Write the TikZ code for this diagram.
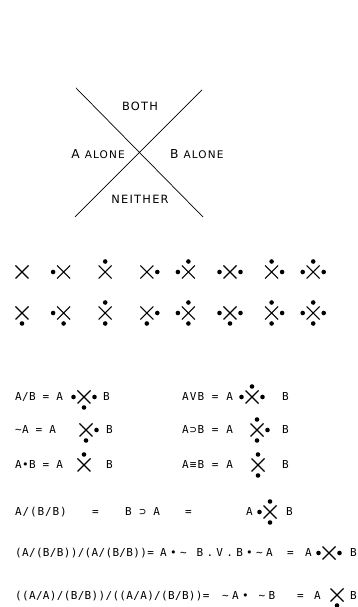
\documentclass[tikz,border=0pt]{standalone}
\usepackage{fontspec}
\newfontfamily\letterfont[LetterSpace=3]{DejaVu Sans Mono}
\newfontfamily\labelfont[LetterSpace=11]{DejaVu Sans}
\usetikzlibrary{positioning}

% one X sign, and its dots (angles: 90 both, 180 A alone, 0 B alone, 270 neither)
\newcommand{\xsym}[1]{\draw[xline] (#1) +(-6.5,-6.5) -- +(6.5,6.5) (#1) +(-6.5,6.5) -- +(6.5,-6.5);}
\newcommand{\xdots}[2]{\foreach \a in #2 {\fill (#1) +(\a:10.5) circle (2.3);}}

\begin{document}
\begin{tikzpicture}[x=1pt,y=1pt,
  lab/.style={font=\labelfont\fontsize{11.4}{12}\selectfont,inner sep=0pt},
  txt/.style={font=\letterfont\fontsize{11}{12}\selectfont,inner sep=0pt,anchor=base west},
  wide/.style={font=\letterfont\fontsize{11}{12}\selectfont\addfontfeature{LetterSpace=#1}},
  bigx/.style={line width=0.7pt},
  xline/.style={line width=1.1pt}]
\useasboundingbox (0,0) rectangle (358,607);

% the four regions
\coordinate (c) at (140,453);
\draw[bigx] (c) +(-64,66) -- +(63,-63) (c) +(62,64) -- +(-65,-63);
\node[lab,above=43pt of c] (both) {BOTH};
\node[lab,left=15pt of c] (aal) {{\fontsize{12.3}{12}\selectfont A} {\fontsize{10.5}{12}\selectfont ALONE}};
\node[lab,right=30pt of c] (bal) {{\fontsize{12.3}{12}\selectfont B} {\fontsize{10.5}{12}\selectfont ALONE}};
\node[lab,below=41pt of c] (neither) {NEITHER};

% the sixteen signs
\foreach \i in {0,...,7} {
  \coordinate (a\i) at (22+41.6*\i,335);
  \coordinate (b\i) at (22+41.6*\i,294);
  \xsym{a\i} \xsym{b\i} \xdots{b\i}{{270}}}
\foreach \i/\ds in {1/{180},2/{90},3/{0},4/{180,90},5/{180,0},6/{90,0},7/{180,90,0}}
  {\xdots{a\i}{\ds} \xdots{b\i}{\ds}}

% the functions
\node[txt] (f1) at (15,206) {A/B = A};
\coordinate (f1x) at (84,210); \xsym{f1x} \xdots{f1x}{{180,0,270}}
\node[txt] (f1b) at (103,206) {B};
\node[txt,wide=10] (f2) at (182,206) {AVB = A};
\coordinate (f2x) at (252,210); \xsym{f2x} \xdots{f2x}{{180,90,0}}
\node[txt] (f2b) at (282,206) {B};

\node[txt] (f3) at (15,173) {∼A = A};
\coordinate (f3x) at (86,177); \xsym{f3x} \xdots{f3x}{{0,270}}
\node[txt] (f3b) at (106,173) {B};
\node[txt,wide=10] (f4) at (182,173) {A⊃B = A};
\coordinate (f4x) at (257,177); \xsym{f4x} \xdots{f4x}{{90,0,270}}
\node[txt] (f4b) at (282,173) {B};

\node[txt] (f5) at (15,138) {A•B = A};
\coordinate (f5x) at (84,142); \xsym{f5x} \xdots{f5x}{{90}}
\node[txt] (f5b) at (106,138) {B};
\node[txt,wide=10] (f6) at (182,138) {A≡B = A};
\coordinate (f6x) at (258,142); \xsym{f6x} \xdots{f6x}{{90,270}}
\node[txt] (f6b) at (282,138) {B};

\node[txt,wide=8] (f7) at (15,91) {A/(B/B)};
\node[txt] (f7e) at (92,91) {=};
\node[txt,wide=8] (f7c) at (125,91) {B ⊃ A};
\node[txt] (f7f) at (185,91) {=};
\node[txt] (f7a) at (246,91) {A};
\coordinate (f7x) at (270,95); \xsym{f7x} \xdots{f7x}{{180,90,270}}
\node[txt] (f7b) at (286,91) {B};

\node[txt] (f8) at (15,50) {(A/(B/B))/(A/(B/B))=};
\node[txt,wide=30] (f8c) at (160,50) {A•∼ B.V.B•∼A};
\node[txt] (f8e) at (287,50) {=};
\node[txt] (f8a) at (305,50) {A};
\coordinate (f8x) at (329,54); \xsym{f8x} \xdots{f8x}{{180,0}}
\node[txt] (f8b) at (350,50) {B};

\node[txt] (f9) at (15,7) {((A/A)/(B/B))/((A/A)/(B/B))=};
\node[txt,wide=30] (f9c) at (222,7) {∼A• ∼B};
\node[txt] (f9e) at (297,7) {=};
\node[txt] (f9a) at (314,7) {A};
\coordinate (f9x) at (337,12); \xsym{f9x} \xdots{f9x}{{270}}
\node[txt] (f9b) at (350,7) {B};
\end{tikzpicture}
\end{document}
